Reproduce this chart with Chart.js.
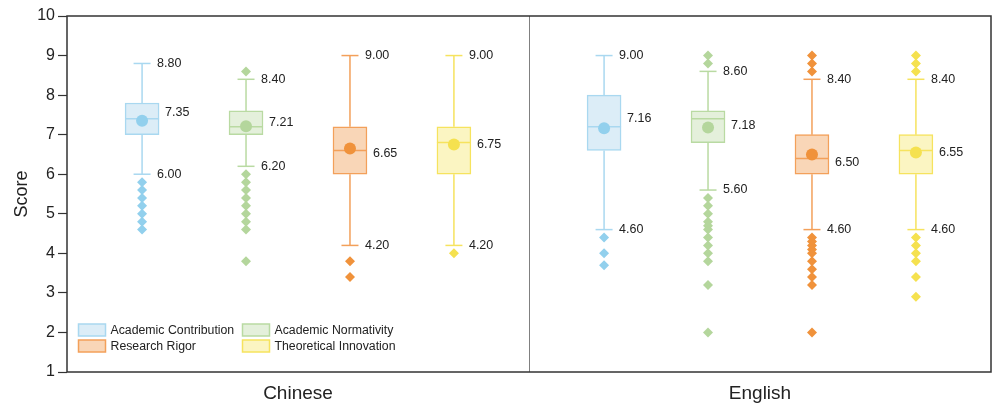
<!DOCTYPE html>
<html>
<head>
<meta charset="utf-8">
<script src="https://cdn.jsdelivr.net/npm/chart.js@4.4.0/dist/chart.umd.min.js"></script>
<style>
  body { margin: 0; background: #fff; }
  #wrap { width: 997px; height: 407px; }
</style>
</head>
<body>
<div id="wrap"><canvas id="scoreChart"></canvas></div>
<script>
// DATA
const groups = ['Chinese', 'English'];
const series = ['Academic Contribution', 'Academic Normativity', 'Research Rigor', 'Theoretical Innovation'];
const yTicks = [1, 2, 3, 4, 5, 6, 7, 8, 9, 10];

// each row = one series, each column = one group (Chinese, English)
const whiskerHigh = [[8.8, 9.0], [8.4, 8.6], [9.0, 8.4], [9.0, 8.4]];
const q3 = [[7.8, 8.0], [7.6, 7.6], [7.2, 7.0], [7.2, 7.0]];
const median = [[7.4, 7.2], [7.2, 7.4], [6.6, 6.4], [6.8, 6.6]];
const q1 = [[7.0, 6.6], [7.0, 6.8], [6.0, 6.0], [6.0, 6.0]];
const whiskerLow = [[6.0, 4.6], [6.2, 5.6], [4.2, 4.6], [4.2, 4.6]];
const mean = [[7.35, 7.16], [7.21, 7.18], [6.65, 6.50], [6.75, 6.55]];

const outliers = [
    [[5.8, 5.6, 5.4, 5.2, 5.0, 4.8, 4.6],
     [4.4, 4.0, 3.7]],
    [[8.6, 6.0, 5.8, 5.6, 5.4, 5.2, 5.0, 4.8, 4.6, 3.8],
     [9.0, 8.8, 5.4, 5.2, 5.0, 4.8, 4.7, 4.6, 4.4, 4.2, 4.0, 3.8, 3.2, 2.0]],
    [[3.8, 3.4],
     [9.0, 8.8, 8.6, 4.4, 4.3, 4.2, 4.1, 4.0, 3.8, 3.6, 3.4, 3.2, 2.0]],
    [[4.0],
     [9.0, 8.8, 8.6, 4.4, 4.2, 4.0, 3.8, 3.4, 2.9]]
];

// STYLE
const strokeColors = ['#a9d8f0', '#b9daa2', '#f3a05a', '#f6e35e'];
const fillColors = ['#dcedf7', '#e4f0db', '#f9d6b7', '#fbf5c2'];
const dotColors = ['#92d0ed', '#b4d69c', '#f0923b', '#f5e14f'];
const meanLabelNudge = [[-8, -10], [-4, -2], [5, 8], [0, 0]];
const boxWidth = 34;
const capWidth = 17;
const fontName = '"Liberation Sans", Arial, sans-serif';

function xPos(si, gi) {
    return gi + 0.5 + (si - 1.5) * 0.225;
}

const meanSets = series.map((s, si) => ({
    type: 'scatter',
    kind: 'mean',
    label: s + ' mean',
    data: groups.map((g, gi) => ({ x: xPos(si, gi), y: mean[si][gi] })),
    pointStyle: 'circle',
    pointRadius: 6,
    backgroundColor: dotColors[si],
    borderWidth: 0
}));

const outlierSets = series.map((s, si) => ({
    type: 'scatter',
    kind: 'outlier',
    label: s + ' outliers',
    data: groups.flatMap((g, gi) => outliers[si][gi].map(v => ({ x: xPos(si, gi), y: v }))),
    pointStyle: 'rectRot',
    pointRadius: 5,
    backgroundColor: dotColors[si],
    borderWidth: 0
}));

const boxSets = series.map((s, si) => ({
    type: 'bar',
    kind: 'box',
    seriesIndex: si,
    label: s,
    data: groups.map((g, gi) => ({ x: xPos(si, gi), y: [q1[si][gi], q3[si][gi]] })),
    backgroundColor: fillColors[si],
    borderColor: strokeColors[si],
    borderWidth: 1.5,
    borderSkipped: false,
    barThickness: boxWidth,
    grouped: false
}));

// whiskers, caps and median line, drawn right after each box
const boxParts = {
    id: 'boxParts',
    afterDatasetDraw(chart, args) {
        const ds = chart.data.datasets[args.index];
        if (ds.kind !== 'box') return;
        const si = ds.seriesIndex;
        const xs = chart.scales.x, ys = chart.scales.y;
        const ctx = chart.ctx;
        ctx.save();
        ctx.strokeStyle = strokeColors[si];
        ctx.lineWidth = 1.5;
        groups.forEach((g, gi) => {
            const px = xs.getPixelForValue(xPos(si, gi));
            const line = (x1, y1, x2, y2) => {
                ctx.beginPath();
                ctx.moveTo(x1, y1);
                ctx.lineTo(x2, y2);
                ctx.stroke();
            };
            line(px, ys.getPixelForValue(whiskerHigh[si][gi]), px, ys.getPixelForValue(q3[si][gi]));
            line(px, ys.getPixelForValue(q1[si][gi]), px, ys.getPixelForValue(whiskerLow[si][gi]));
            const hy = ys.getPixelForValue(whiskerHigh[si][gi]);
            const ly = ys.getPixelForValue(whiskerLow[si][gi]);
            line(px - capWidth / 2, hy, px + capWidth / 2, hy);
            line(px - capWidth / 2, ly, px + capWidth / 2, ly);
            const my = ys.getPixelForValue(median[si][gi]);
            line(px - boxWidth / 2, my, px + boxWidth / 2, my);
        });
        ctx.restore();
    }
};

// frame, divider, value labels, legend
const extras = {
    id: 'extras',
    afterDraw(chart) {
        const ctx = chart.ctx;
        const a = chart.chartArea;
        const xs = chart.scales.x, ys = chart.scales.y;
        ctx.save();

        // divider between groups
        ctx.strokeStyle = '#808080';
        ctx.lineWidth = 1;
        const dx = Math.round(xs.getPixelForValue(1)) + 0.5;
        ctx.beginPath();
        ctx.moveTo(dx, a.top);
        ctx.lineTo(dx, a.bottom);
        ctx.stroke();

        // frame
        ctx.strokeStyle = '#333';
        ctx.lineWidth = 1.5;
        ctx.strokeRect(a.left, a.top, a.right - a.left, a.bottom - a.top);

        // value labels
        ctx.fillStyle = '#222';
        ctx.font = '12.5px ' + fontName;
        ctx.textAlign = 'left';
        ctx.textBaseline = 'middle';
        series.forEach((s, si) => {
            groups.forEach((g, gi) => {
                const px = xs.getPixelForValue(xPos(si, gi));
                ctx.fillText(whiskerHigh[si][gi].toFixed(2), px + 15, ys.getPixelForValue(whiskerHigh[si][gi]));
                ctx.fillText(whiskerLow[si][gi].toFixed(2), px + 15, ys.getPixelForValue(whiskerLow[si][gi]));
                ctx.fillText(mean[si][gi].toFixed(2), px + 23, ys.getPixelForValue(mean[si][gi]) + meanLabelNudge[si][gi]);
            });
        });

        // legend, two columns inside the plot
        ctx.font = '12.3px ' + fontName;
        ctx.lineWidth = 1.5;
        series.forEach((s, si) => {
            const col = si === 0 || si === 2 ? 0 : 1;
            const row = si < 2 ? 0 : 1;
            const bx = a.left + 11.5 + col * 164;
            const by = a.bottom - 42 + row * 16;
            ctx.fillStyle = fillColors[si];
            ctx.fillRect(bx, by - 6, 27, 12);
            ctx.strokeStyle = strokeColors[si];
            ctx.strokeRect(bx, by - 6, 27, 12);
            ctx.fillStyle = '#222';
            ctx.fillText(s, bx + 32, by + 1);
        });
        ctx.restore();
    }
};

const ctxScore = document.getElementById('scoreChart').getContext('2d');
const scoreChart = new Chart(ctxScore, {
    type: 'bar',
    data: {
        datasets: [...meanSets, ...outlierSets, ...boxSets]
    },
    options: {
        responsive: true,
        maintainAspectRatio: false,
        animation: false,
        layout: { padding: { top: 16, right: 4, left: 0, bottom: 0 } },
        plugins: {
            legend: { display: false },
            tooltip: { enabled: false }
        },
        scales: {
            x: {
                type: 'linear',
                min: 0,
                max: 2,
                offset: false,
                bounds: 'ticks',
                afterDataLimits: (scale) => { scale.min = 0; scale.max = 2; },
                afterBuildTicks: (scale) => {
                    scale.ticks = groups.map((g, gi) => ({ value: gi + 0.5 }));
                },
                afterFit: (scale) => { scale.height = 35; },
                ticks: {
                    autoSkip: false,
                    maxRotation: 0,
                    padding: 10,
                    color: '#222',
                    font: { family: fontName, size: 19 },
                    callback: (v) => groups[Math.round(v - 0.5)]
                },
                grid: { display: false, drawTicks: false, offset: false },
                border: { display: false }
            },
            y: {
                min: 1,
                max: 10,
                afterBuildTicks: (scale) => {
                    scale.ticks = yTicks.map(v => ({ value: v }));
                },
                afterFit: (scale) => { scale.width = 67; },
                ticks: {
                    padding: 3,
                    color: '#222',
                    font: { family: fontName, size: 16 }
                },
                grid: {
                    drawOnChartArea: false,
                    drawTicks: true,
                    tickLength: 9,
                    tickColor: '#333',
                    tickWidth: 1.2
                },
                border: { display: false },
                title: {
                    display: true,
                    text: 'Score',
                    color: '#222',
                    font: { family: fontName, size: 18 },
                    padding: { top: 11, bottom: 0 }
                }
            }
        }
    },
    plugins: [boxParts, extras]
});
</script>
</body>
</html>
